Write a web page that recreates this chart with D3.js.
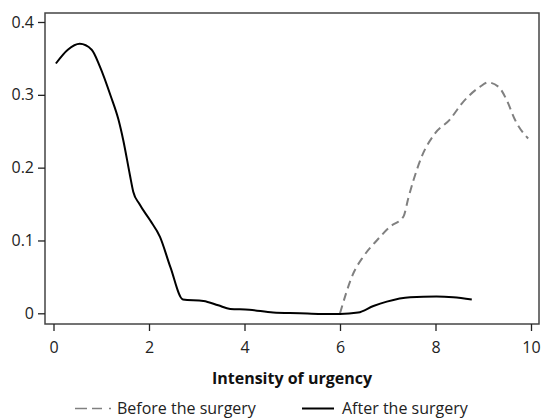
<!DOCTYPE html>
<html>
<head>
<meta charset="utf-8">
<script src="https://cdn.jsdelivr.net/npm/d3@7"></script>
<style>
  body { margin: 0; background: #fff; }
  svg { display: block; font-family: "Open Sans", "Noto Sans", sans-serif; }
</style>
</head>
<body>
<svg id="chart" width="543" height="418"></svg>
<script>
const xTicks = [0, 2, 4, 6, 8, 10];
const yTicks = [0, 0.1, 0.2, 0.3, 0.4];
const yTickLabels = ["0", "0.1", "0.2", "0.3", "0.4"];
const seriesNames = ["Before the surgery", "After the surgery"];
const xTitle = "Intensity of urgency";

const afterX = [0.05, 0.3, 0.55, 0.8, 0.97, 1.2, 1.36, 1.46, 1.6, 1.67, 1.8, 2.02, 2.23, 2.45, 2.71, 3.14, 3.45, 3.7, 4.1, 4.6, 5.16, 5.6, 6.0, 6.38, 6.7, 6.98, 7.47, 8.02, 8.37, 8.76];
const afterY = [0.343, 0.362, 0.370, 0.362, 0.339, 0.298, 0.266, 0.238, 0.190, 0.167, 0.150, 0.128, 0.105, 0.063, 0.019, 0.017, 0.011, 0.006, 0.005, 0.001, 0.000, -0.001, -0.001, 0.001, 0.010, 0.016, 0.022, 0.023, 0.022, 0.019];

const beforeX = [6.0, 6.28, 6.49, 6.77, 7.05, 7.33, 7.43, 7.54, 7.71, 7.99, 8.3, 8.55, 8.93, 9.1, 9.32, 9.49, 9.67, 9.94];
const beforeY = [0.000, 0.055, 0.078, 0.100, 0.119, 0.133, 0.158, 0.183, 0.215, 0.247, 0.266, 0.288, 0.311, 0.317, 0.311, 0.293, 0.265, 0.240];

const svg = d3.select("#chart");
const frame = {left: 45, right: 539, top: 13, bottom: 324};
const fontSize = 16;

const x = d3.scaleLinear().domain([0, 10]).range([53.5, 531]);
const y = d3.scaleLinear().domain([0, 0.4]).range([313.3, 22]);

// frame
svg.append("rect")
  .attr("x", frame.left).attr("y", frame.top)
  .attr("width", frame.right - frame.left).attr("height", frame.bottom - frame.top)
  .attr("fill", "none").attr("stroke", "#444").attr("stroke-width", 1.5);

// x axis
const xAxis = svg.append("g")
  .attr("transform", `translate(0,${frame.bottom})`)
  .call(d3.axisBottom(x).tickValues(xTicks).tickSize(7).tickPadding(11).tickFormat(d3.format("d")));
xAxis.select(".domain").remove();
xAxis.selectAll("line").attr("stroke", "#222").attr("stroke-width", 1.3);
xAxis.selectAll("text").attr("font-size", fontSize).attr("fill", "#222").attr("font-family", "Open Sans, Noto Sans, sans-serif");

// y axis
const yAxis = svg.append("g")
  .attr("transform", `translate(${frame.left},0)`)
  .call(d3.axisLeft(y).tickValues(yTicks).tickSize(7).tickPadding(4).tickFormat((d, i) => yTickLabels[i]));
yAxis.select(".domain").remove();
yAxis.selectAll("line").attr("stroke", "#222").attr("stroke-width", 1.3);
yAxis.selectAll("text").attr("font-size", fontSize).attr("fill", "#222").attr("font-family", "Open Sans, Noto Sans, sans-serif");

const line = d3.line().x(d => x(d[0])).y(d => y(d[1])).curve(d3.curveMonotoneX);

svg.append("path")
  .datum(beforeX.map((v, i) => [v, beforeY[i]]))
  .attr("d", line).attr("fill", "none")
  .attr("stroke", "#808080").attr("stroke-width", 2)
  .attr("stroke-dasharray", "8,5");

svg.append("path")
  .datum(afterX.map((v, i) => [v, afterY[i]]))
  .attr("d", line).attr("fill", "none")
  .attr("stroke", "#000").attr("stroke-width", 2);

// x title
svg.append("text")
  .attr("x", 292).attr("y", 384)
  .attr("text-anchor", "middle")
  .attr("font-size", fontSize).attr("font-weight", "bold").attr("fill", "#111")
  .text(xTitle);

// legend
const ly = 408.5;
svg.append("line").attr("x1", 75).attr("x2", 87).attr("y1", ly).attr("y2", ly)
  .attr("stroke", "#808080").attr("stroke-width", 1.5);
svg.append("line").attr("x1", 92).attr("x2", 102).attr("y1", ly).attr("y2", ly)
  .attr("stroke", "#808080").attr("stroke-width", 1.5);
svg.append("line").attr("x1", 109).attr("x2", 111).attr("y1", ly).attr("y2", ly)
  .attr("stroke", "#808080").attr("stroke-width", 1.5);
svg.append("text").attr("x", 117).attr("y", 414)
  .attr("font-size", fontSize).attr("fill", "#222").text(seriesNames[0]);

svg.append("line").attr("x1", 302).attr("x2", 334).attr("y1", ly).attr("y2", ly)
  .attr("stroke", "#000").attr("stroke-width", 2);
svg.append("text").attr("x", 342).attr("y", 414)
  .attr("font-size", fontSize).attr("fill", "#222").text(seriesNames[1]);
</script>
</body>
</html>
